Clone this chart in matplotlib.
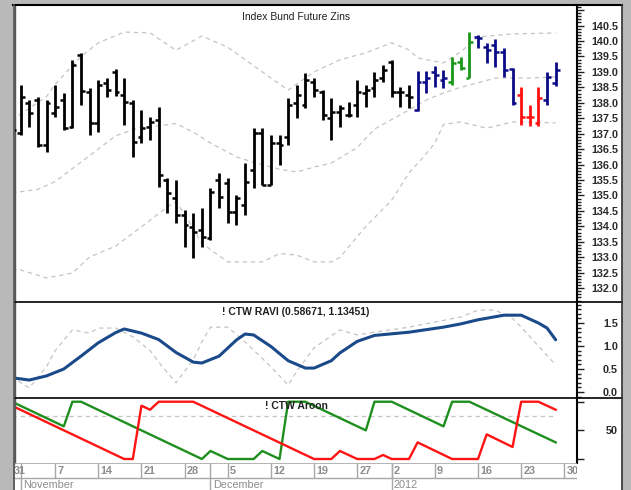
import matplotlib
matplotlib.use("Agg")
import matplotlib.pyplot as plt
import numpy as np
import pandas as pd
from matplotlib.lines import Line2D
from matplotlib.patches import Rectangle
from matplotlib.ticker import MultipleLocator

plt.rcParams['font.family'] = ['Liberation Sans', 'DejaVu Sans']

# trading days (Eurex closed on 26 Dec)
days = pd.bdate_range('2011-10-31', '2012-01-30')
days = days[days != pd.Timestamp('2011-12-26')]

# daily bars Oct 31 .. Jan 27
opens = [137.77, 137.02, 137.99, 138.09, 136.63, 137.67, 138.09, 137.22, 139.55, 138.35,
         137.35, 138.64, 139.00, 138.25, 137.99, 136.89, 137.22, 137.44, 135.50, 134.92,
         134.37, 133.98, 133.88, 133.63, 135.50, 135.40, 134.47, 134.69, 135.83, 137.02,
         135.34, 136.70, 136.89, 137.99, 137.93, 138.67, 138.35, 137.51, 137.70, 137.61,
         137.93, 138.32, 138.48, 138.80, 139.32, 138.35, 138.25, 137.77, 138.67, 139.00,
         138.74, 138.67, 139.32, 138.80, 140.13, 139.81, 139.87, 139.64, 139.09, 138.25,
         137.54, 137.35, 138.09, 138.64]
highs = [138.25, 138.58, 138.09, 138.19, 138.09, 138.58, 138.32, 139.39, 139.61, 138.48,
         138.74, 138.80, 139.09, 138.80, 138.09, 137.77, 137.54, 137.86, 135.57, 135.50,
         134.53, 134.43, 134.60, 135.24, 135.73, 135.57, 135.02, 136.05, 137.18, 137.18,
         136.96, 136.96, 138.16, 138.58, 138.96, 138.80, 138.41, 138.16, 137.93, 138.03,
         138.74, 138.58, 139.00, 139.22, 139.39, 138.51, 138.58, 139.03, 139.03, 139.19,
         139.06, 139.48, 139.48, 140.29, 140.19, 139.94, 140.06, 139.77, 139.13, 138.51,
         137.93, 138.51, 139.00, 139.32]
lows = [136.96, 136.96, 137.22, 136.57, 136.41, 137.54, 137.12, 137.18, 137.93, 136.96,
        137.06, 138.19, 138.22, 137.28, 136.25, 136.70, 136.80, 135.28, 134.43, 134.11,
        133.33, 132.98, 133.33, 133.56, 134.60, 134.11, 134.05, 134.37, 135.24, 135.34,
        135.34, 135.99, 136.63, 137.51, 137.83, 138.19, 137.44, 136.80, 137.22, 137.54,
        137.54, 137.86, 138.19, 138.67, 138.19, 137.86, 137.83, 137.73, 138.32, 138.51,
        138.48, 138.58, 139.06, 138.80, 139.77, 139.29, 139.16, 138.83, 137.93, 137.28,
        137.25, 137.25, 137.93, 138.54]
closes = [137.12, 138.19, 137.67, 136.63, 137.99, 137.86, 137.18, 139.22, 138.38, 137.35,
          138.58, 138.41, 138.35, 138.03, 136.73, 137.18, 137.38, 135.66, 135.08, 134.37,
          134.05, 133.82, 133.66, 135.11, 134.95, 134.47, 134.92, 135.44, 137.02, 135.34,
          136.70, 136.63, 137.93, 138.25, 138.74, 138.41, 137.61, 137.70, 137.83, 137.61,
          138.35, 138.41, 138.74, 139.06, 138.35, 138.35, 138.19, 138.67, 138.80, 138.90,
          138.80, 139.29, 139.13, 139.97, 140.10, 139.71, 139.64, 139.06, 137.99, 137.54,
          137.54, 138.16, 138.83, 139.06]
# bar state: n neutral, b blue, g green, r red
state = list('n' * 47 + 'bbbb' + 'ggg' + 'bbbbb' + 'rrr' + 'bb')

# envelope bands (bar index, price)
upper_idx = [0, 4, 5, 8, 10, 13, 16, 19, 22, 25, 29, 32, 35, 38, 41, 44, 46, 47, 50, 52, 54, 58, 63]
upper_val = [137.45, 138.2, 138.6, 139.5, 139.94, 140.29, 140.26, 139.7, 140.16, 139.8, 139.0,
             138.41, 139.0, 139.39, 139.62, 139.94, 139.71, 139.45, 139.29, 139.65, 140.13,
             140.23, 140.26]
mid_idx = [0, 3, 5, 8, 12, 15, 17, 19, 21, 23, 26, 28, 31, 33, 35, 37, 40, 42, 46, 48, 50, 52,
           56, 60, 63]
mid_val = [135.08, 135.2, 135.45, 136.08, 136.93, 137.22, 137.25, 137.33, 137.05, 136.7, 136.25,
           136.07, 135.85, 135.76, 135.92, 136.05, 136.55, 137.15, 137.77, 138.09, 138.32, 138.5,
           138.8, 138.8, 138.84]
lower_idx = [0, 1, 4, 7, 9, 12, 16, 18, 19, 20, 22, 25, 29, 31, 33, 35, 37, 38, 41, 44, 46, 48,
             49, 50, 52, 55, 58, 63]
lower_val = [132.62, 132.59, 132.33, 132.49, 133.01, 133.36, 134.2, 134.63, 134.79, 134.4,
             133.45, 132.85, 132.85, 133.12, 133.07, 132.85, 132.85, 133.0, 134.0, 134.85,
             135.73, 136.35, 136.7, 137.3, 137.38, 137.18, 137.38, 137.35]

# RAVI
ravi_idx = [0, 2, 4, 6, 8, 10, 12, 13, 15, 17, 19, 21, 22, 24, 26, 27, 28, 30, 32, 34, 35, 37,
            38, 40, 42, 46, 50, 52, 54, 57, 59, 61, 62, 63]
ravi_val = [0.31, 0.26, 0.35, 0.50, 0.78, 1.07, 1.29, 1.37, 1.28, 1.14, 0.86, 0.65, 0.63, 0.78,
            1.13, 1.26, 1.24, 0.99, 0.68, 0.52, 0.52, 0.68, 0.85, 1.10, 1.23, 1.30, 1.41, 1.48,
            1.57, 1.67, 1.67, 1.50, 1.39, 1.13451]
ravi2_idx = [0, 1, 2, 4, 5, 7, 9, 10, 12, 14, 16, 17, 19, 21, 22, 23, 25, 27, 30, 32, 33, 35,
             38, 40, 42, 46, 49, 52, 54, 56, 58, 59, 61, 63]
ravi2_val = [0.35, 0.20, 0.09, 0.55, 0.90, 1.35, 1.28, 1.39, 1.39, 1.20, 0.90, 0.65, 0.20, 0.70,
             1.09, 1.41, 1.41, 1.09, 0.55, 0.15, 0.45, 0.96, 1.35, 1.24, 1.30, 1.41, 1.52, 1.63,
             1.78, 1.78, 1.60, 1.41, 1.00, 0.58671]

# Aroon (14)
up_idx = [0, 6, 7, 8, 22, 23, 25, 28, 29, 31, 32, 34, 41, 42, 44, 50, 51, 53, 63]
up_val = [100, 57, 100, 100, 0, 14, 0, 0, 14, 0, 100, 100, 50, 100, 100, 57, 100, 100, 29]
dn_idx = [0, 13, 14, 15, 16, 17, 21, 35, 37, 38, 40, 42, 43, 44, 46, 47, 51, 54, 55, 58, 59, 61, 63]
dn_val = [93, 0, 0, 93, 86, 100, 100, 0, 0, 14, 0, 0, 7, 0, 0, 29, 0, 0, 43, 21, 100, 100, 86]
aroon_level = 75

W, H = 631, 490
fig = plt.figure(figsize=(W / 100, H / 100), dpi=100)
fig.patch.set_facecolor('#b9b9b9')
fig.add_artist(Rectangle((15 / W, 0), 607 / W, 1 - 5 / H, transform=fig.transFigure,
                         facecolor='white', edgecolor='none', zorder=0))


def box(top, bottom):
    return [15 / W, 1 - bottom / H, 562 / W, (bottom - top) / H]


def hline(py, x0, x1, color='black', lw=1.2):
    fig.add_artist(Line2D([x0 / W, x1 / W], [1 - py / H, 1 - py / H],
                          transform=fig.transFigure, color=color, lw=lw, zorder=5))


ax1 = fig.add_axes(box(5, 302))
ax2 = fig.add_axes(box(302, 398))
ax3 = fig.add_axes(box(398, 463))
axd = fig.add_axes(box(463, 490))

xlim = ((15 - 12) / 8.63, (577 - 12) / 8.63)
for ax in (ax1, ax2, ax3):
    ax.set_xlim(*xlim)
    ax.set_facecolor('none')
    ax.tick_params(axis='x', bottom=False, labelbottom=False)
    ax.yaxis.tick_right()
    ax.tick_params(axis='y', which='major', length=5, width=1, pad=24.5,
                   labelsize=7.8, labelcolor='#2a2a2a', color='#202020')
    ax.tick_params(axis='y', which='minor', length=2.9, width=1, color='#202020')
    for s in ('top', 'bottom'):
        ax.spines[s].set_visible(False)
    ax.spines['left'].set_color('#555555')
    ax.spines['left'].set_linewidth(1)
    ax.spines['right'].set_linewidth(1.5)

# price panel
ax1.set_ylim(131.553, 141.165)
pticks = np.arange(132.0, 141.01, 0.5)
ax1.set_yticks(pticks, ['%.1f' % t if t <= 140.5 else '' for t in pticks])
ax1.yaxis.set_minor_locator(MultipleLocator(0.1))
for xs, ys in ((upper_idx, upper_val), (mid_idx, mid_val), (lower_idx, lower_val)):
    ax1.plot(xs, ys, color='#c4c4c4', lw=0.9, ls=(0, (3.5, 3)), zorder=1)
cmap = {'n': '#000000', 'b': '#0b0b88', 'g': '#1a961a', 'r': '#ff1010'}
cols = [cmap[s] for s in state]
idx = np.arange(len(opens))
ax1.vlines(idx, lows, highs, colors=cols, lw=2.0, capstyle='butt', zorder=3)
ax1.hlines(opens, idx - 0.45, idx, colors=cols, lw=1.8, capstyle='butt', zorder=3)
ax1.hlines(closes, idx, idx + 0.45, colors=cols, lw=1.8, capstyle='butt', zorder=3)
ax1.text(0.5, 0.958, 'Index Bund Future Zins', transform=ax1.transAxes, ha='center',
         va='center', fontsize=7.5, color='#202020')

# RAVI panel
ax2.set_ylim(-0.1304, 1.9565)
ax2.set_yticks([0, 0.5, 1.0, 1.5], ['0.0', '0.5', '1.0', '1.5'])
ax2.yaxis.set_minor_locator(MultipleLocator(0.1))
ax2.plot(ravi2_idx, ravi2_val, color='#c4c4c4', lw=0.9, ls=(0, (3.5, 3)), zorder=1)
ax2.plot(ravi_idx, ravi_val, color='#1a4a8a', lw=2.2, solid_capstyle='round', zorder=2)
ax2.text(0.5, 0.896, '! CTW RAVI (%.5f, %.5f)' % (ravi2_val[-1], ravi_val[-1]),
         transform=ax2.transAxes, ha='center', va='center', fontsize=7.5,
         fontweight='bold', color='#202020', zorder=5)

# Aroon panel
ax3.set_ylim(-6.98, 106.5)
ax3.set_yticks([0, 50, 100], ['', '50', ''])
ax3.hlines(aroon_level, 0, len(opens) - 1, color='#c4c4c4', lw=0.9, ls=(0, (3.5, 3)), zorder=1)
ax3.plot(up_idx, up_val, color='#1e8f1e', lw=1.7, zorder=2)
ax3.plot(dn_idx, dn_val, color='#ff1414', lw=1.7, zorder=2)
ax3.text(0.5, 0.877, '! CTW Aroon', transform=ax3.transAxes, ha='center', va='center',
         fontsize=7.5, fontweight='bold', color='#202020', zorder=5)

for ax in (ax1, ax2, ax3):
    for lbl in ax.get_yticklabels():
        lbl.set_horizontalalignment('right')
        lbl.set_fontweight('bold')

# date strip
axd.set_xlim(*xlim)
axd.set_ylim(0, 1)
axd.axis('off')
row = (490 - 478) / 27
week = days.to_period('W')
week_start = [i for i in range(len(days)) if i == 0 or week[i] != week[i - 1]]
month_start = [i for i in range(1, len(days)) if days[i].month != days[i - 1].month]
gray = '#8c8c8c'
axd.axhline(row, color='#a8a8a8', lw=1)
axd.axhline(1, color='#a8a8a8', lw=1.2)
for i in week_start:
    axd.vlines(i, row, 1, color='#a8a8a8', lw=1)
    axd.text(i + 0.25, (1 + row) / 2, str(days[i].day), ha='left', va='center',
             fontsize=7.8, fontweight='bold', color=gray, clip_on=True)
for i in month_start:
    axd.vlines(i, 0, 1, color='#a8a8a8', lw=1)
    name = str(days[i].year) if days[i].month == 1 else days[i].strftime('%B')
    axd.text(i + 0.25, row / 2 - 0.02, name, ha='left', va='center',
             fontsize=7.8, color=gray, clip_on=True)

# frame lines
hline(5, 13, 622, lw=1.5)
hline(302, 15, 622, lw=1.2)
hline(398, 15, 622, lw=1.2)
fig.add_artist(Line2D([622 / W, 622 / W], [0, 1 - 5 / H], transform=fig.transFigure,
                      color='#303030', lw=1.2, zorder=5))
fig.add_artist(Line2D([14 / W, 14 / W], [0, 1 - 5 / H], transform=fig.transFigure,
                      color='#505050', lw=1.2, zorder=5))

fig.savefig('out.png', dpi=100, facecolor=fig.get_facecolor())
